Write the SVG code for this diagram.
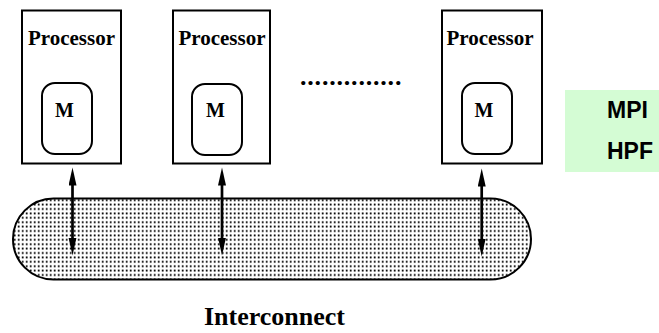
<svg xmlns="http://www.w3.org/2000/svg" width="659" height="333" viewBox="0 0 659 333">
  <style>
    .proc { fill: #ffffff; stroke: #000000; stroke-width: 2; }
    .mem { fill: #ffffff; stroke: #000000; stroke-width: 2; }
    .serif { font-family: "Liberation Serif", "Times New Roman", serif; font-weight: bold; fill: #000000; }
    .ptitle { font-size: 21px; text-anchor: middle; }
    .mlabel { font-size: 20px; text-anchor: middle; }
    .sans { font-family: "Liberation Sans", Arial, sans-serif; font-weight: bold; font-size: 23px; fill: #000000; }
    .link { stroke: #000000; stroke-width: 2.7; marker-start: url(#head); marker-end: url(#head); }
  </style>
  <defs>
    <!-- stipple fill for the interconnect bus -->
    <pattern id="stipple" patternUnits="userSpaceOnUse" x="0" y="0" width="4" height="4.4">
      <rect width="4" height="4.4" fill="#ffffff"/>
      <rect x="1.8" y="1.3" width="1.8" height="1.8" fill="#000000"/>
    </pattern>
    <!-- narrow arrowhead, reused at both ends of each link -->
    <marker id="head" markerUnits="userSpaceOnUse" markerWidth="20" markerHeight="9" refX="0.5" refY="4" orient="auto-start-reverse">
      <path d="M0,0 L18,4 L0,8 Z" fill="#000000"/>
    </marker>
  </defs>

  <!-- interconnect bus -->
  <g id="interconnect">
    <rect x="13" y="198.5" width="518" height="81" rx="40.5" ry="40.5" fill="url(#stipple)" stroke="#000000" stroke-width="2"/>
    <text class="serif" x="274.5" y="325" font-size="26" text-anchor="middle">Interconnect</text>
  </g>

  <g id="processor1">
    <rect class="proc" x="22" y="10.5" width="99" height="153"/>
    <text class="serif ptitle" x="71.5" y="44.5">Processor</text>
    <rect class="mem" x="42" y="83" width="50" height="71" rx="13" ry="13"/>
    <text class="serif mlabel" x="64.5" y="117">M</text>
  </g>

  <g id="processor2">
    <rect class="proc" x="173" y="10.5" width="97" height="153"/>
    <text class="serif ptitle" x="222" y="44.5">Processor</text>
    <rect class="mem" x="192" y="84" width="50" height="71" rx="13" ry="13"/>
    <text class="serif mlabel" x="215.5" y="117">M</text>
  </g>

  <g id="processor3">
    <rect class="proc" x="442" y="10.5" width="100" height="153"/>
    <text class="serif ptitle" x="490" y="44.5">Processor</text>
    <rect class="mem" x="462" y="83" width="50" height="71" rx="13" ry="13"/>
    <text class="serif mlabel" x="484" y="117">M</text>
  </g>

  <!-- ellipsis between processors -->
  <g id="ellipsis">
    <text class="serif" x="300" y="85" font-size="26" letter-spacing="0.8">..............</text>
  </g>

  <!-- programming models -->
  <g id="models">
    <rect x="565" y="90" width="94" height="82" fill="#d4fcd4"/>
    <text class="sans" x="607" y="118">MPI</text>
    <text class="sans" x="607" y="159">HPF</text>
  </g>

  <!-- bidirectional links between processors and the bus -->
  <g id="connectors">
    <line class="link" x1="72.5" y1="185" x2="72.5" y2="238"/>
    <line class="link" x1="222" y1="185" x2="222" y2="238"/>
    <line class="link" x1="481.7" y1="186" x2="481.7" y2="239"/>
  </g>
</svg>
